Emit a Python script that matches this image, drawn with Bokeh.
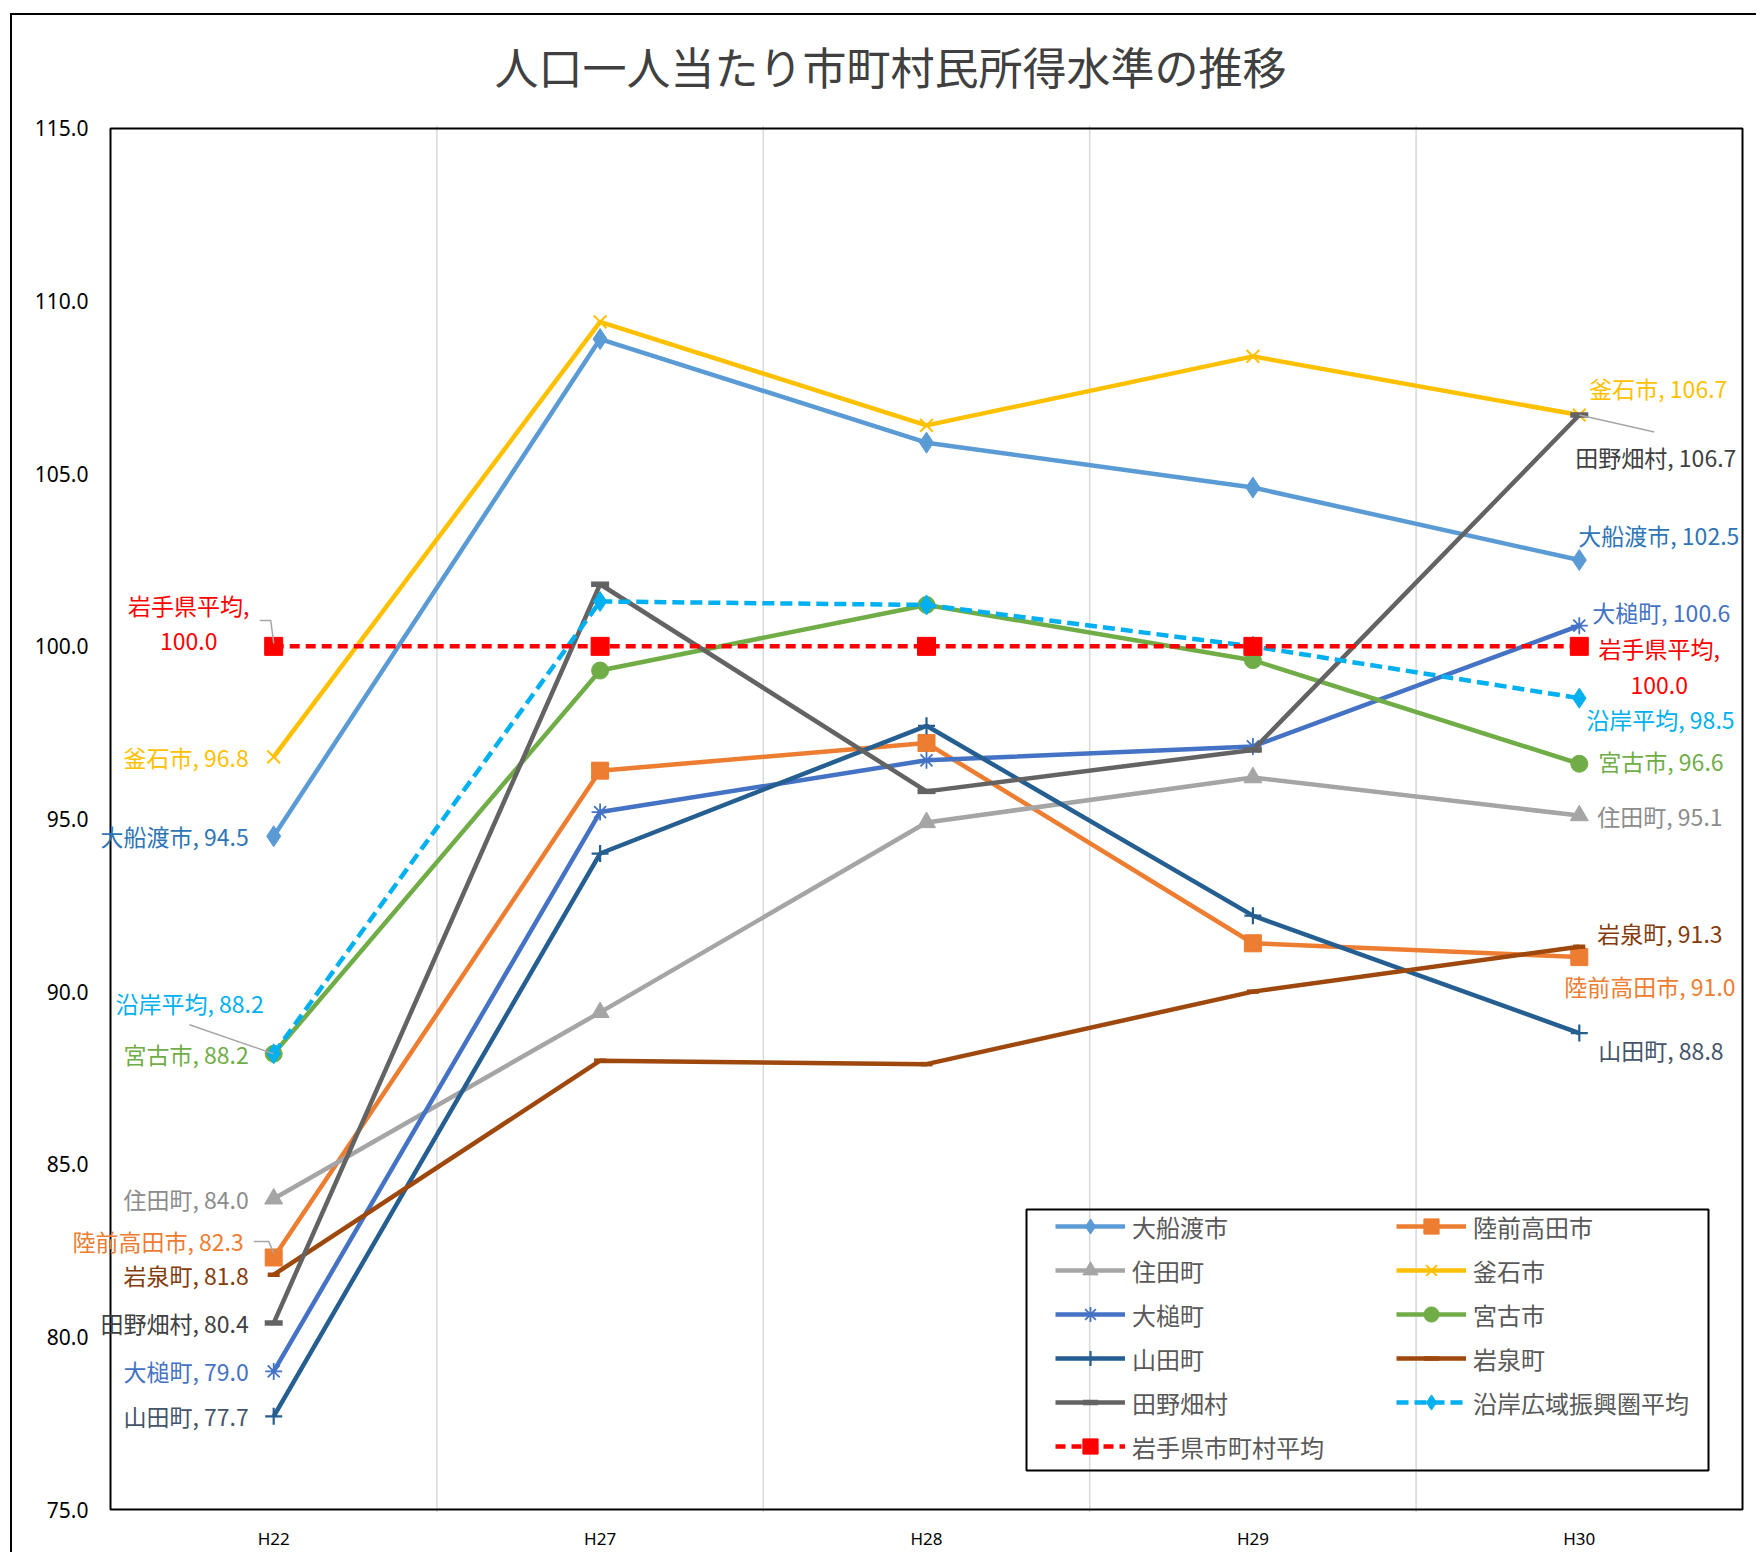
from bokeh.plotting import figure
from bokeh.models import (Range1d, Span, Legend, LegendItem, Label,
                          BoxAnnotation, ColumnDataSource, FixedTicker, PrintfTickFormatter)
from bokeh.embed import file_html
from bokeh.resources import INLINE

# ---------------- data ----------------
years = ["H22", "H27", "H28", "H29", "H30"]
y_ticks = [75, 80, 85, 90, 95, 100, 105, 110, 115]

series_names = ["大船渡市", "陸前高田市", "住田町", "釜石市", "大槌町", "宮古市",
                "山田町", "岩泉町", "田野畑村", "沿岸広域振興圏平均", "岩手県市町村平均"]
label_names = ["大船渡市", "陸前高田市", "住田町", "釜石市", "大槌町", "宮古市",
               "山田町", "岩泉町", "田野畑村", "沿岸平均", "岩手県平均"]

ofunato = [94.5, 108.9, 105.9, 104.6, 102.5]
rikuzentakata = [82.3, 96.4, 97.2, 91.4, 91.0]
sumita = [84.0, 89.4, 94.9, 96.2, 95.1]
kamaishi = [96.8, 109.4, 106.4, 108.4, 106.7]
otsuchi = [79.0, 95.2, 96.7, 97.1, 100.6]
miyako = [88.2, 99.3, 101.2, 99.6, 96.6]
yamada = [77.7, 94.0, 97.7, 92.2, 88.8]
iwaizumi = [81.8, 88.0, 87.9, 90.0, 91.3]
tanohata = [80.4, 101.8, 95.8, 97.0, 106.7]
engan_avg = [88.2, 101.3, 101.2, 100.0, 98.5]
iwate_avg = [100.0, 100.0, 100.0, 100.0, 100.0]

all_values = [ofunato, rikuzentakata, sumita, kamaishi, otsuchi, miyako,
              yamada, iwaizumi, tanohata, engan_avg, iwate_avg]

# category slots: each year sits in the middle of its slot
x_pos = [i + 0.5 for i in range(len(years))]

# ---------------- styles ----------------
line_colors = ["#5B9BD5", "#ED7D31", "#A5A5A5", "#FFC000", "#4472C4", "#70AD47",
               "#255E91", "#9E480E", "#636363", "#00B0F0", "#FF0000"]
label_colors = ["#2E75B6", "#ED7D31", "#8C8C8C", "#FFC000", "#4472C4", "#70AD47",
                "#44546A", "#843C0C", "#404040", "#00B0F0", "#FF0000"]
markers = ["diamond", "square", "triangle", "x", "asterisk", "circle",
           "cross", "dash", "dash", "diamond", "square"]
marker_sizes = [21, 17, 18, 18, 17, 17, 17, 12, 18, 20, 18]
marker_lw = [1, 1, 1, 2, 1.8, 1, 2.2, 4.5, 5.5, 1, 1]
dashes = ["solid"] * 9 + ["12 6", "10 6"]

# label placement (pixel offsets, screen y downwards) at first / last category:
# (x_offset, y_offset, align, second_line_y_offset or None)
first_pos = [(-25, 0, "right", None), (-30, -16, "right", None), (-25, 0, "right", None),
             (-25, 0, "right", None), (-25, 0, "right", None), (-25, 0, "right", None),
             (-25, 0, "right", None), (-25, 0, "right", None), (-25, 0, "right", None),
             (-10, -51, "right", None), (-85, -41, "center", -5)]
last_pos = [(-1, -25, "left", None), (-15, 29, "left", None), (18, 0, "left", None),
            (10, -27, "left", None), (13, -14, "left", None), (19, -3, "left", None),
            (19, 17, "left", None), (18, -14, "left", None), (-4, 42, "left", None),
            (7, 21, "left", None), (80, 2, "center", 39)]

# ---------------- layout (page pixels) ----------------
W, H = 1756, 1552
BOX_L, BOX_R, BOX_T, BOX_B = 110, 1742, 128, 1512     # visible plot-area box
FRAME_L, FRAME_R, FRAME_T, FRAME_B = 64, 1745, 125, 1515   # frame a bit larger: no clipping
slot_px = (BOX_R - BOX_L) / len(years)
unit_px = (BOX_B - BOX_T) / (y_ticks[-1] - y_ticks[0])
x_start = -(BOX_L - FRAME_L) / slot_px
x_end = len(years) + (FRAME_R - BOX_R) / slot_px
y_start = y_ticks[0] - (FRAME_B - BOX_B) / unit_px
y_end = y_ticks[-1] + (BOX_T - FRAME_T) / unit_px

p = figure(width=W, height=H, output_backend="svg", toolbar_location=None,
           x_range=Range1d(x_start, x_end), y_range=Range1d(y_start, y_end),
           min_border_left=FRAME_L, min_border_right=W - FRAME_R,
           min_border_top=FRAME_T, min_border_bottom=H - FRAME_B)
# outer chart-area border (left and top edges) painted behind the transparent canvas border
p.styles = {
    "background-image": "linear-gradient(#000000, #000000), linear-gradient(#000000, #000000)",
    "background-size": "100% 2px, 2px 100%",
    "background-position": "10px 13px, 10px 13px",
    "background-repeat": "no-repeat",
}
p.border_fill_color = None
p.background_fill_color = "white"
p.outline_line_color = None

p.title.text = "人口一人当たり市町村民所得水準の推移"
p.title.text_font = "Noto Sans CJK JP"
p.title.text_font_size = "44px"
p.title.text_font_style = "normal"
p.title.text_color = "#404040"
p.title.align = "left"
p.title.offset = 430
p.title.standoff = 56

p.xgrid.visible = False
p.ygrid.visible = False
for loc in range(1, len(years)):
    sp = Span(location=loc, dimension="height", line_color="#D9D9D9", line_width=1.5)
    sp.level = "underlay"
    p.add_layout(sp)

# plot-area box spanning all category slots and the full value range
p.quad(left=[0], right=[len(years)], bottom=[y_ticks[0]], top=[y_ticks[-1]],
       fill_color=None, line_color="#000000", line_width=2)

p.yaxis.ticker = FixedTicker(ticks=y_ticks)
p.yaxis.formatter = PrintfTickFormatter(format="%.1f")
p.yaxis.major_label_text_font = "Noto Sans"
p.yaxis.major_label_text_font_size = "21px"
p.yaxis.major_label_text_color = "#000000"
p.yaxis.major_label_standoff = FRAME_L - 88
p.xaxis.ticker = FixedTicker(ticks=x_pos)
p.xaxis.major_label_overrides = {x: y for x, y in zip(x_pos, years)}
p.xaxis.major_label_text_font = "Noto Sans"
p.xaxis.major_label_text_font_size = "17px"
p.xaxis.major_label_text_color = "#000000"
p.xaxis.major_label_standoff = 14
for ax in (p.xaxis, p.yaxis):
    ax.axis_line_color = None
    ax.major_tick_line_color = None
    ax.minor_tick_line_color = None
    ax.major_tick_out = 0
    ax.major_tick_in = 0
    ax.minor_tick_out = 0
    ax.minor_tick_in = 0

items = {}
for i, vals in enumerate(all_values):
    src = ColumnDataSource(dict(x=x_pos, y=vals))
    ln = p.line("x", "y", source=src, line_color=line_colors[i], line_width=4.5,
                line_dash=dashes[i])
    sc = p.scatter("x", "y", source=src, marker=markers[i], size=marker_sizes[i],
                   line_color=line_colors[i], fill_color=line_colors[i],
                   line_width=marker_lw[i])
    items[series_names[i]] = [ln, sc]

# leader lines (offsets in slot / value units from the point)
leaders = [
    (10, 0, [(-0.043, 0.75), (-0.009, 0.75), (0.0, 0.09)]),
    (9, 0, [(-0.258, 0.84), (0.0, 0.0)]),
    (1, 0, [(-0.061, 0.46), (-0.015, 0.46), (0.0, 0.12)]),
    (8, len(years) - 1, [(0.0, 0.0), (0.23, -0.49)]),
]
lxs, lys = [], []
for si, idx, pts in leaders:
    lxs.append([x_pos[idx] + dx for dx, dy in pts])
    lys.append([all_values[si][idx] + dy for dx, dy in pts])
p.multi_line(lxs, lys, line_color="#A6A6A6", line_width=1.5)

# data labels
def add_label(idx, y, txt, xo, yo, align, color):
    p.add_layout(Label(x=x_pos[idx], y=y, text=txt, x_offset=xo, y_offset=-yo,
                       text_align=align, text_baseline="middle", text_color=color,
                       text_font="Noto Sans CJK JP", text_font_size="23px"))

for i, vals in enumerate(all_values):
    for idx, pos in ((0, first_pos[i]), (len(years) - 1, last_pos[i])):
        v = vals[idx]
        xo, yo, align, yo2 = pos
        if yo2 is not None:
            add_label(idx, v, f"{label_names[i]},", xo, yo, align, label_colors[i])
            add_label(idx, v, f"{v:.1f}", xo, yo2, align, label_colors[i])
        else:
            add_label(idx, v, f"{label_names[i]}, {v:.1f}", xo, yo, align, label_colors[i])

# legend box (canvas pixels); gridlines stay visible through it
p.add_layout(BoxAnnotation(left=1026, top=1209, right=1708, bottom=1470,
                           left_units="canvas", right_units="canvas",
                           top_units="canvas", bottom_units="canvas",
                           fill_color=None, fill_alpha=0, line_color="#000000",
                           line_alpha=1.0, line_width=2))

# legend: Bokeh fills column-first, so order items to read row-wise like the reference
legend_order = [0, 2, 4, 6, 8, 10, 1, 3, 5, 7, 9]
legend = Legend(items=[LegendItem(label=series_names[k], renderers=items[series_names[k]])
                       for k in legend_order],
                location=(991, 47), ncols=2)
legend.label_text_font = "Noto Sans CJK JP"
legend.label_text_font_size = "24px"
legend.label_text_color = "#595959"
legend.glyph_width = 70
legend.glyph_height = 38
legend.label_height = 24
legend.label_width = 258
legend.label_standoff = 7
legend.spacing = 6
legend.padding = 10
legend.margin = 0
legend.border_line_color = None
legend.background_fill_alpha = 0
p.add_layout(legend, "center")

open("out.html", "w").write(file_html(p, INLINE))
